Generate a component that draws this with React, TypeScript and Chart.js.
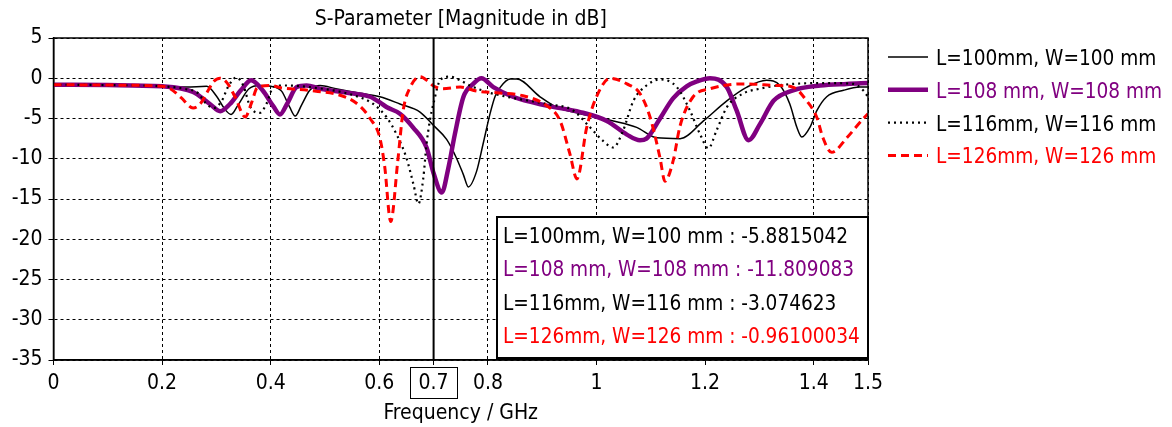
import React, { useEffect, useRef } from 'react';
import { Chart, registerables } from 'chart.js';

Chart.register(...registerables);

const FONT = '"DejaVu Sans Condensed", "DejaVu Sans", sans-serif';

const TITLE = 'S-Parameter [Magnitude in dB]';
const X_TITLE = 'Frequency / GHz';
const SERIES_NAMES = ['L=100mm, W=100 mm', 'L=108 mm, W=108 mm', 'L=116mm, W=116 mm', 'L=126mm, W=126 mm'];
const MARKER_FREQ = 0.7;
const MARKER_VALUES = ['-5.8815042', '-11.809083', '-3.074623', '-0.96100034'];
const X_TICKS = [0, 0.2, 0.4, 0.6, 0.7, 0.8, 1, 1.2, 1.4, 1.5];
const Y_TICKS = [5, 0, -5, -10, -15, -20, -25, -30, -35];

const F_100 = [0, 0.1, 0.2, 0.245, 0.282, 0.3, 0.315, 0.327, 0.34, 0.36, 0.38, 0.4, 0.42, 0.435, 0.445, 0.457, 0.472, 0.491, 0.52, 0.552, 0.601, 0.638, 0.675, 0.7, 0.724, 0.742, 0.755, 0.764, 0.779, 0.791, 0.804, 0.813, 0.823, 0.841, 0.853, 0.896, 0.927, 0.97, 1.031, 1.074, 1.111, 1.154, 1.197, 1.24, 1.277, 1.313, 1.338, 1.356, 1.369, 1.378, 1.393, 1.406, 1.424, 1.455, 1.485, 1.5];
const DB_100 = [-0.8, -0.85, -1.0, -1.1, -1.0, -2.2, -3.8, -4.5, -3.3, -1.3, -0.9, -1.0, -1.6, -3.6, -4.7, -3.3, -1.5, -0.9, -1.3, -1.7, -2.3, -3.2, -4.2, -5.88, -7.6, -9.9, -12.0, -13.5, -11.6, -8.2, -4.4, -2.3, -1.1, -0.1, -0.1, -2.3, -3.6, -4.4, -5.3, -6.1, -7.4, -7.5, -5.3, -2.8, -1.1, -0.25, -0.9, -3.2, -6.1, -7.3, -6.1, -4.0, -2.3, -1.5, -1.1, -1.1];

const F_108 = [0, 0.1, 0.2, 0.257, 0.288, 0.307, 0.325, 0.345, 0.364, 0.385, 0.405, 0.417, 0.43, 0.448, 0.466, 0.491, 0.552, 0.583, 0.601, 0.614, 0.638, 0.662, 0.687, 0.7, 0.715, 0.727, 0.739, 0.755, 0.773, 0.788, 0.81, 0.846, 0.908, 0.97, 1.019, 1.056, 1.08, 1.092, 1.117, 1.141, 1.166, 1.185, 1.209, 1.24, 1.258, 1.28, 1.301, 1.326, 1.362, 1.412, 1.461, 1.5];
const DB_108 = [-0.8, -0.85, -1.0, -1.7, -3.2, -4.1, -3.2, -1.5, -0.25, -1.5, -3.5, -4.5, -3.2, -1.1, -0.9, -1.3, -1.9, -2.3, -3.0, -3.6, -4.4, -6.1, -8.6, -11.8, -14.2, -11.2, -7.0, -2.3, -0.7, 0.0, -1.1, -2.3, -3.4, -4.2, -5.3, -7.0, -7.7, -7.5, -5.0, -2.5, -1.0, -0.4, 0.0, -1.1, -4.0, -7.7, -5.7, -2.8, -1.5, -0.9, -0.7, -0.6];

const F_116 = [0, 0.1, 0.2, 0.24, 0.267, 0.279, 0.295, 0.31, 0.322, 0.337, 0.35, 0.362, 0.38, 0.392, 0.405, 0.425, 0.472, 0.552, 0.589, 0.614, 0.632, 0.65, 0.663, 0.672, 0.681, 0.687, 0.693, 0.7, 0.712, 0.73, 0.749, 0.767, 0.798, 0.835, 0.908, 0.957, 0.988, 1.0125, 1.031, 1.049, 1.068, 1.092, 1.117, 1.148, 1.172, 1.191, 1.206, 1.221, 1.24, 1.27, 1.301, 1.362, 1.424, 1.473, 1.491, 1.5];
const DB_116 = [-0.8, -0.85, -1.0, -1.3, -1.9, -3.0, -3.7, -2.8, -1.0, 0.1, -1.0, -3.5, -4.3, -3.2, -1.1, -0.9, -1.1, -2.1, -3.2, -4.9, -7.0, -9.9, -13.2, -15.6, -12.4, -8.2, -5.3, -3.07, -0.25, 0.2, -0.25, -0.9, -1.7, -2.3, -3.2, -4.0, -6.1, -7.8, -8.6, -6.5, -2.8, -0.9, -0.15, -1.1, -4.0, -7.0, -8.7, -6.5, -3.6, -1.9, -1.3, -0.7, -0.6, -0.7, -1.5, -2.3];

const F_126 = [0, 0.1, 0.2, 0.215, 0.235, 0.257, 0.27, 0.285, 0.295, 0.307, 0.32, 0.335, 0.353, 0.365, 0.375, 0.399, 0.42, 0.47, 0.54, 0.565, 0.583, 0.601, 0.61, 0.621, 0.634, 0.644, 0.657, 0.675, 0.69, 0.7, 0.717, 0.749, 0.78, 0.816, 0.86, 0.908, 0.933, 0.951, 0.964, 0.982, 1.0, 1.025, 1.056, 1.08, 1.099, 1.117, 1.126, 1.141, 1.154, 1.178, 1.209, 1.27, 1.332, 1.362, 1.387, 1.406, 1.417, 1.433, 1.461, 1.485, 1.5];
const DB_126 = [-0.8, -0.85, -1.0, -1.3, -2.4, -3.7, -3.2, -1.5, -0.4, 0.0, -0.6, -2.4, -4.8, -3.0, -1.2, -0.9, -1.2, -1.5, -2.4, -3.5, -5.0, -7.4, -11.0, -17.8, -10.3, -4.0, -1.1, 0.2, -0.4, -0.96, -1.3, -1.1, -1.6, -1.8, -2.1, -3.4, -5.3, -9.4, -12.5, -6.1, -2.3, 0.0, -0.7, -1.9, -4.9, -9.9, -12.8, -10.3, -5.9, -2.3, -1.3, -0.7, -0.9, -1.1, -2.8, -4.9, -7.4, -9.2, -7.4, -5.5, -4.4];

const PURPLE = '#800080';
const STYLES = [
  { color: '#000000', width: 1.5, dash: [] as number[], textColor: '#000000' },
  { color: PURPLE, width: 4.5, dash: [] as number[], textColor: PURPLE },
  { color: '#000000', width: 2.2, dash: [2, 4], textColor: '#000000' },
  { color: '#ff0000', width: 3, dash: [8, 5], textColor: '#ff0000' },
];

const pts = (f: number[], v: number[]) => f.map((x, i) => ({ x, y: v[i] }));

const overlayPlugin = {
  id: 'overlay',
  afterDraw(chart: any) {
    const { ctx, chartArea: a, scales } = chart;
    const xs = scales.x;
    ctx.save();
    ctx.setLineDash([]);
    ctx.strokeStyle = '#000';
    ctx.lineWidth = 1.5;
    ctx.strokeRect(a.left, a.top, a.right - a.left, a.bottom - a.top);
    const xm = xs.getPixelForValue(MARKER_FREQ);
    ctx.lineWidth = 2;
    ctx.beginPath();
    ctx.moveTo(xm, a.top);
    ctx.lineTo(xm, a.bottom);
    ctx.stroke();
    ctx.lineWidth = 1;
    ctx.strokeRect(Math.round(xm - 23.5) + 0.5, a.bottom + 7.5, 47, 31);
    ctx.fillStyle = '#000';
    ctx.font = `21px ${FONT}`;
    ctx.textAlign = 'center';
    ctx.textBaseline = 'alphabetic';
    const cx = (a.left + a.right) / 2;
    ctx.fillText(TITLE, cx, 25);
    ctx.fillText(X_TITLE, cx, a.bottom + 59);
    ctx.textAlign = 'left';
    ctx.font = `20.6px ${FONT}`;
    SERIES_NAMES.forEach((name, i) => {
      const base = a.top + 27 + i * 32.8;
      const st = STYLES[i];
      ctx.strokeStyle = st.color;
      ctx.lineWidth = st.width;
      ctx.setLineDash(st.dash);
      ctx.beginPath();
      ctx.moveTo(a.right + 20, base - 8);
      ctx.lineTo(a.right + 60, base - 8);
      ctx.stroke();
      ctx.setLineDash([]);
      ctx.fillStyle = st.textColor;
      ctx.fillText(name, a.right + 68, base);
    });
    const bw = 371, bh = 141;
    const bl = a.right - bw, bt = a.bottom - bh - 2;
    ctx.fillStyle = '#fff';
    ctx.fillRect(bl, bt, bw, bh);
    ctx.strokeStyle = '#000';
    ctx.lineWidth = 2;
    ctx.strokeRect(bl, bt, bw, bh);
    SERIES_NAMES.forEach((name, i) => {
      ctx.fillStyle = STYLES[i].textColor;
      ctx.fillText(`${name} : ${MARKER_VALUES[i]}`, bl + 6, bt + 26 + i * 33.3);
    });
    ctx.restore();
  },
};

export default function App() {
  const ref = useRef<HTMLCanvasElement>(null);
  useEffect(() => {
    document.body.style.margin = '0';
    const series = [pts(F_100, DB_100), pts(F_108, DB_108), pts(F_116, DB_116), pts(F_126, DB_126)];
    const orders = [3, 2, 1, 0];
    const chart = new Chart(ref.current as HTMLCanvasElement, {
      type: 'line',
      data: {
        datasets: series.map((d, i) => ({
          label: SERIES_NAMES[i],
          data: d,
          borderColor: STYLES[i].color,
          borderWidth: STYLES[i].width,
          borderDash: STYLES[i].dash,
          pointRadius: 0,
          fill: false,
          cubicInterpolationMode: 'monotone' as const,
          order: orders[i],
        })),
      },
      options: {
        responsive: false,
        animation: false,
        devicePixelRatio: 1,
        layout: { padding: { top: 38, right: 304, left: 0, bottom: 0 } },
        plugins: { legend: { display: false }, title: { display: false }, tooltip: { enabled: false } },
        scales: {
          x: {
            type: 'linear',
            min: 0,
            max: 1.5,
            afterBuildTicks: (s: any) => { s.ticks = X_TICKS.map((v) => ({ value: v })); },
            afterFit: (s: any) => { s.height = 67; },
            ticks: {
              autoSkip: false,
              maxRotation: 0,
              padding: 6,
              color: '#000',
              font: { family: FONT, size: 21 },
              callback: (v: any) => String(v),
            },
            grid: {
              color: (c: any) => (c.tick && c.tick.value === MARKER_FREQ ? 'rgba(0,0,0,0)' : '#000'),
              lineWidth: 1,
              tickBorderDash: [],
              tickColor: '#000',
              tickLength: 5,
            },
            border: { display: true, color: '#000', width: 1.5, dash: [3, 3] },
          },
          y: {
            type: 'linear',
            min: -35,
            max: 5,
            afterBuildTicks: (s: any) => { s.ticks = Y_TICKS.map((v) => ({ value: v })); },
            afterFit: (s: any) => { s.width = 53.5; },
            ticks: {
              autoSkip: false,
              padding: 6,
              color: '#000',
              font: { family: FONT, size: 21 },
              callback: (v: any) => String(v),
            },
            grid: {
              color: '#000',
              lineWidth: 1,
              tickBorderDash: [],
              tickColor: '#000',
              tickLength: 5,
            },
            border: { display: true, color: '#000', width: 1.5, dash: [3, 3] },
          },
        },
      },
      plugins: [overlayPlugin],
    } as any);
    return () => chart.destroy();
  }, []);
  return (
    <div style={{ width: 1172, height: 427, position: 'relative', background: '#fff' }}>
      <canvas ref={ref} width={1172} height={427} />
    </div>
  );
}
